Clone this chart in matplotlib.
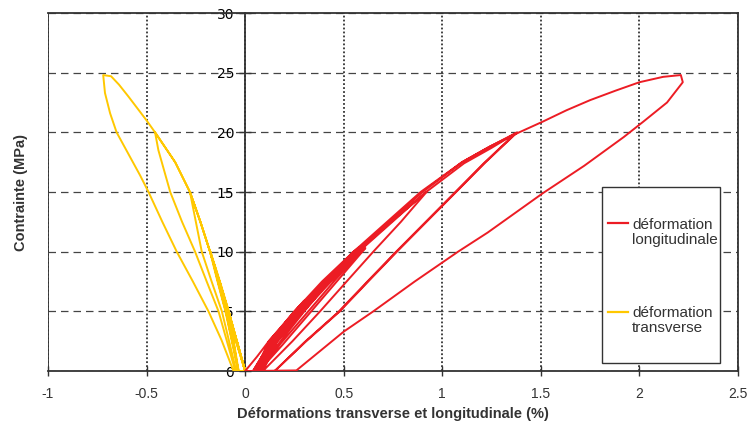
import matplotlib
matplotlib.use("Agg")
import matplotlib.pyplot as plt
from matplotlib.patches import Rectangle

# longitudinal strain (%) and stress (MPa), cycle by cycle
long_x = [0.0,
          # cycles to ~6 MPa
          0.06, 0.12, 0.19, 0.25, 0.30, 0.21, 0.11, 0.04,
          0.08, 0.14, 0.21, 0.27, 0.31, 0.22, 0.12, 0.05,
          0.09, 0.15, 0.22, 0.28, 0.32, 0.23, 0.13, 0.06, 0.02,
          # cycles to ~10 MPa
          0.05, 0.13, 0.26, 0.40, 0.55, 0.58, 0.43, 0.30, 0.17, 0.06,
          0.08, 0.15, 0.28, 0.42, 0.57, 0.60, 0.45, 0.32, 0.18, 0.07,
          0.09, 0.16, 0.29, 0.43, 0.58, 0.61, 0.46, 0.33, 0.19, 0.07, 0.03,
          # cycle to 15 MPa
          0.06, 0.14, 0.27, 0.41, 0.57, 0.74, 0.92, 0.79, 0.65, 0.52, 0.38, 0.24, 0.09, 0.04,
          # cycles to 20 MPa
          0.05, 0.13, 0.26, 0.40, 0.56, 0.73, 0.90, 1.10, 1.24, 1.38,
          1.22, 1.07, 0.92, 0.77, 0.63, 0.48, 0.31, 0.15, 0.05,
          0.07, 0.14, 0.27, 0.41, 0.57, 0.74, 0.91, 1.11, 1.25, 1.37,
          1.21, 1.06, 0.91, 0.76, 0.62, 0.47, 0.30, 0.15, 0.04,
          # cycle to 25 MPa
          0.05, 0.12, 0.25, 0.39, 0.55, 0.72, 0.89, 1.10, 1.24, 1.39,
          1.51, 1.63, 1.75, 1.88, 2.00, 2.12, 2.21,
          2.22, 2.14, 2.02, 1.92, 1.72, 1.51, 1.23, 1.08, 0.86, 0.65, 0.50, 0.26, 0.01]
long_y = [0.0,
          1.2, 2.5, 3.8, 5.0, 5.9, 4.2, 1.9, 0.0,
          1.1, 2.4, 3.8, 5.0, 5.8, 4.1, 1.8, 0.0,
          1.0, 2.3, 3.7, 4.9, 5.6, 4.0, 1.8, 0.0, 0.0,
          0.0, 2.5, 5.0, 7.5, 10.0, 10.4, 7.6, 5.0, 2.3, 0.0,
          0.0, 2.4, 4.9, 7.4, 9.9, 10.3, 7.5, 5.0, 2.3, 0.0,
          0.0, 2.4, 4.9, 7.4, 9.9, 10.3, 7.4, 4.9, 2.2, 0.0, 0.0,
          0.0, 2.5, 5.0, 7.5, 10.0, 12.5, 15.0, 12.5, 10.0, 7.6, 5.0, 2.5, 0.0, 0.0,
          0.0, 2.5, 5.0, 7.5, 10.0, 12.5, 15.0, 17.5, 18.8, 20.0,
          17.5, 15.0, 12.5, 10.0, 7.6, 5.0, 2.5, 0.0, 0.0,
          0.0, 2.4, 4.9, 7.4, 9.9, 12.4, 14.9, 17.4, 18.7, 19.9,
          17.4, 14.9, 12.4, 9.9, 7.5, 4.9, 2.4, 0.0, 0.0,
          0.0, 2.5, 5.0, 7.5, 10.0, 12.5, 15.0, 17.5, 18.8, 20.0,
          20.9, 21.85, 22.7, 23.5, 24.2, 24.65, 24.8,
          24.2, 22.5, 20.9, 19.6, 17.2, 14.9, 11.6, 10.0, 7.5, 5.0, 3.3, 0.05, 0.0]

# transverse strain (%) and stress (MPa)
trans_x = [0.0,
           # cycles to ~5.5 MPa
           -0.045, -0.085, -0.095, -0.07, -0.035, 0.0,
           -0.044, -0.083, -0.093, -0.068, -0.033, 0.0,
           # cycles to 10 MPa
           -0.043, -0.085, -0.13, -0.178, -0.14, -0.10, -0.035, 0.0,
           -0.042, -0.083, -0.128, -0.176, -0.138, -0.098, -0.033, 0.0,
           # cycle to 15 MPa
           -0.042, -0.085, -0.13, -0.178, -0.227, -0.28, -0.25, -0.22, -0.17, -0.118, -0.045, 0.0,
           # cycle to 20 MPa
           -0.042, -0.085, -0.13, -0.178, -0.227, -0.28, -0.355, -0.457,
           -0.44, -0.38, -0.32, -0.254, -0.195, -0.135, -0.05, 0.0,
           # cycle to 25 MPa
           -0.042, -0.085, -0.13, -0.178, -0.227, -0.28, -0.355, -0.457, -0.50,
           -0.592, -0.64, -0.68, -0.72,
           -0.711, -0.685, -0.652, -0.533, -0.49, -0.42, -0.347, -0.265, -0.186, -0.12, -0.059, 0.0]
trans_y = [0.0,
           2.4, 5.0, 5.5, 3.5, 0.0, 0.0,
           2.4, 5.0, 5.5, 3.5, 0.0, 0.0,
           2.5, 5.0, 7.5, 10.0, 7.5, 5.0, 0.0, 0.0,
           2.5, 5.0, 7.5, 10.0, 7.5, 5.0, 0.0, 0.0,
           2.5, 5.0, 7.5, 10.0, 12.5, 15.0, 12.5, 10.0, 7.5, 5.0, 0.0, 0.0,
           2.5, 5.0, 7.5, 10.0, 12.5, 15.0, 17.5, 20.0,
           18.5, 15.0, 12.5, 10.0, 7.5, 5.0, 0.0, 0.0,
           2.5, 5.0, 7.5, 10.0, 12.5, 15.0, 17.5, 20.0, 21.0,
           23.0, 24.0, 24.7, 24.8,
           23.3, 21.6, 20.0, 16.4, 15.0, 12.5, 10.0, 7.5, 5.0, 2.6, 0.0, 0.0]

x_ticks = [-1, -0.5, 0, 0.5, 1, 1.5, 2, 2.5]
x_tick_labels = ["-1", "-0.5", "0", "0.5", "1", "1.5", "2", "2.5"]
y_ticks = [0, 5, 10, 15, 20, 25, 30]

red = "#ec1c24"
yellow = "#ffc800"
dark = "#333333"
font = ["Liberation Sans", "DejaVu Sans"]

fig = plt.figure(figsize=(7.5, 4.25), dpi=100)
ax = fig.add_axes([0.064, 0.127, 0.92, 0.8424])

ax.plot(trans_x, trans_y, color=yellow, lw=1.4, zorder=3)
ax.plot(long_x, long_y, color=red, lw=1.4, zorder=4)

ax.set_xlim(-1, 2.5)
ax.set_ylim(0, 30)
ax.set_xticks(x_ticks)
ax.set_xticklabels(x_tick_labels, family=font, fontsize=10, color=dark)
ax.set_yticks(y_ticks)
ax.set_yticklabels([str(v) for v in y_ticks], family=font, fontsize=10, color="#444444")

# y axis sits on x = 0
ax.spines["left"].set_position(("data", 0))
for s in ax.spines.values():
    s.set_color(dark)
    s.set_linewidth(1.3)
ax.axvline(-1, color=dark, lw=1.3, zorder=5)

ax.tick_params(axis="y", direction="inout", length=8, width=1, color=dark, pad=4)
ax.tick_params(axis="x", direction="inout", length=7, width=1, color=dark, pad=8)

ax.set_axisbelow(True)
ax.xaxis.grid(True, linestyle=(0, (1, 1.2)), color=dark, lw=1.3)
ax.yaxis.grid(True, linestyle=(0, (6, 4)), color="#444444", lw=0.9)

ax.set_xlabel("Déformations transverse et longitudinale (%)", family=font,
              fontweight="bold", fontsize=10.5, color=dark, labelpad=4)
fig.text(0.028, 0.548, "Contrainte (MPa)", family=font, fontweight="bold",
         fontsize=10.5, color=dark, rotation=90, ha="center", va="center")

# legend box drawn by hand (Excel style: tall box, handles at first line)
ax.add_patch(Rectangle((0.8029, 0.0223), 0.171, 0.4917, transform=ax.transAxes,
                       facecolor="white", edgecolor=dark, lw=1, zorder=6))
ax.plot([0.8116, 0.8406], [0.4134, 0.4134], transform=ax.transAxes,
        color=red, lw=1.6, zorder=7)
ax.plot([0.8116, 0.8406], [0.1648, 0.1648], transform=ax.transAxes,
        color=yellow, lw=1.6, zorder=7)
ax.text(0.8464, 0.388, "déformation\nlongitudinale", transform=ax.transAxes,
        family=font, fontsize=11, color=dark, va="center", ha="left",
        linespacing=1.1, zorder=7)
ax.text(0.8464, 0.14, "déformation\ntransverse", transform=ax.transAxes,
        family=font, fontsize=11, color=dark, va="center", ha="left",
        linespacing=1.1, zorder=7)

fig.savefig("out.png", dpi=100, facecolor="white")
